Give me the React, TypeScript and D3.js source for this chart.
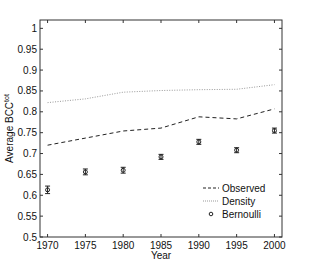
import React from 'react';
import * as d3 from 'd3';

const years = [1970, 1975, 1980, 1985, 1990, 1995, 2000];
const observed = [0.72, 0.737, 0.754, 0.761, 0.788, 0.783, 0.807];
const density = [0.822, 0.831, 0.847, 0.851, 0.853, 0.854, 0.865];
const bernoulli = [0.613, 0.656, 0.66, 0.692, 0.728, 0.708, 0.755];
const bernoulliErr = [0.009, 0.007, 0.007, 0.006, 0.006, 0.006, 0.006];
const yTicks = [0.5, 0.55, 0.6, 0.65, 0.7, 0.75, 0.8, 0.85, 0.9, 0.95, 1];
const legendLabels = ['Observed', 'Density', 'Bernoulli'];

const W = 311;
const H = 267;
const left = 40, right = 282, top = 20, bottom = 237;

export default function App() {
  const x = d3.scaleLinear().domain([1969, 2001]).range([left, right]);
  const y = d3.scaleLinear().domain([0.5, 1.02]).range([bottom, top]);
  const line = d3.line<number>().x((_, i) => x(years[i])).y(d => y(d));
  const font = 'Liberation Sans, Arial, sans-serif';
  const tk = 3;

  return (
    <svg width={W} height={H} style={{ position: 'absolute', left: 0, top: 0 }} fontFamily={font}>
      <rect width={W} height={H} fill="#fff" />
      <path d={line(density) || ''} fill="none" stroke="#999" strokeWidth={1} strokeDasharray="1,1.5" />
      <path d={line(observed) || ''} fill="none" stroke="#222" strokeWidth={1} strokeDasharray="4,3" />
      {bernoulli.map((v, i) => {
        const cx = x(years[i]);
        const e = bernoulliErr[i];
        return (
          <g key={i} stroke="#222" strokeWidth={1} fill="none">
            <line x1={cx} x2={cx} y1={y(v - e)} y2={y(v + e)} />
            <line x1={cx - 2.5} x2={cx + 2.5} y1={y(v - e)} y2={y(v - e)} />
            <line x1={cx - 2.5} x2={cx + 2.5} y1={y(v + e)} y2={y(v + e)} />
            <circle cx={cx} cy={y(v)} r={2} />
          </g>
        );
      })}
      <rect x={left} y={top} width={right - left} height={bottom - top} fill="none" stroke="#333" strokeWidth={1} />
      {years.map(t => (
        <g key={t} stroke="#333">
          <line x1={x(t)} x2={x(t)} y1={bottom} y2={bottom - tk} />
          <line x1={x(t)} x2={x(t)} y1={top} y2={top + tk} />
        </g>
      ))}
      {yTicks.map(t => (
        <g key={t} stroke="#333">
          <line x1={left} x2={left + tk} y1={y(t)} y2={y(t)} />
          <line x1={right} x2={right - tk} y1={y(t)} y2={y(t)} />
        </g>
      ))}
      {years.map(t => (
        <text key={t} x={x(t)} y={bottom + 12} fontSize={10} textAnchor="middle" fill="#111">{t}</text>
      ))}
      {yTicks.map(t => (
        <text key={t} x={left - 3} y={y(t) + 3.5} fontSize={10} textAnchor="end" fill="#111">{d3.format('')(t)}</text>
      ))}
      <text x={(left + right) / 2} y={259} fontSize={10} textAnchor="middle" fill="#111">Year</text>
      <text transform={`translate(13,${(top + bottom) / 2}) rotate(-90)`} fontSize={10} textAnchor="middle" fill="#111">
        Average BCC<tspan dy={-4} fontSize={7}>tot</tspan>
      </text>
      {legendLabels.map((lab, i) => {
        const ly = 188 + i * 13;
        return (
          <g key={lab}>
            {i === 0 && <line x1={203} x2={219} y1={ly} y2={ly} stroke="#222" strokeDasharray="3,2" />}
            {i === 1 && <line x1={203} x2={219} y1={ly} y2={ly} stroke="#999" strokeDasharray="1,1" />}
            {i === 2 && <circle cx={211} cy={ly} r={1.8} fill="none" stroke="#222" />}
            <text x={222} y={ly + 3.5} fontSize={10} fill="#111">{lab}</text>
          </g>
        );
      })}
    </svg>
  );
}
